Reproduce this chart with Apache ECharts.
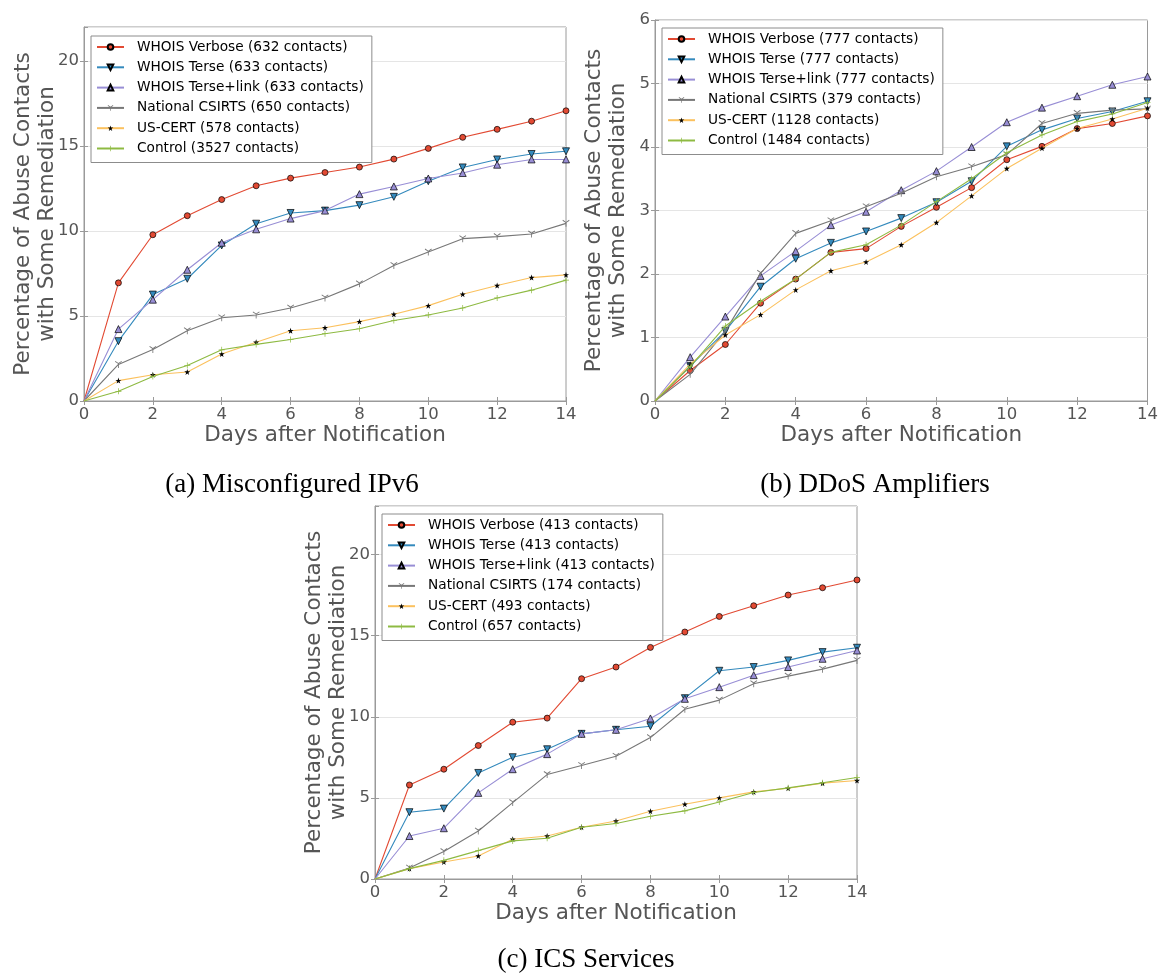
<!DOCTYPE html>
<html>
<head>
<meta charset="utf-8">
<script src="https://cdn.jsdelivr.net/npm/echarts@6/dist/echarts.min.js"></script>
<style>
  html, body { margin: 0; padding: 0; background: #fff; }
  #chart { width: 1161px; height: 973px; }
</style>
</head>
<body>
<div id="chart"></div>
<script>
// Days after the notification was sent
const days = [0, 1, 2, 3, 4, 5, 6, 7, 8, 9, 10, 11, 12, 13, 14];

const groupNames = ['WHOIS Verbose', 'WHOIS Terse', 'WHOIS Terse+link', 'National CSIRTS', 'US-CERT', 'Control'];

// (a) Misconfigured IPv6
const ipv6Contacts = [632, 633, 633, 650, 578, 3527];
const ipv6Verbose   = [0, 6.95, 9.78, 10.9, 11.85, 12.66, 13.11, 13.44, 13.76, 14.23, 14.86, 15.51, 15.98, 16.46, 17.07];
const ipv6Terse     = [0, 3.52, 6.26, 7.19, 9.15, 10.43, 11.06, 11.2, 11.52, 12.01, 12.93, 13.74, 14.21, 14.53, 14.69];
const ipv6TerseLink = [0, 4.23, 5.96, 7.72, 9.31, 10.1, 10.73, 11.2, 12.17, 12.62, 13.09, 13.41, 13.9, 14.21, 14.21];
const ipv6Csirts    = [0, 2.15, 3.03, 4.13, 4.9, 5.06, 5.47, 6.06, 6.89, 7.97, 8.76, 9.55, 9.67, 9.82, 10.45];
const ipv6UsCert    = [0, 1.2, 1.54, 1.71, 2.76, 3.46, 4.13, 4.31, 4.67, 5.1, 5.61, 6.28, 6.79, 7.26, 7.42];
const ipv6Control   = [0, 0.57, 1.44, 2.09, 3.01, 3.33, 3.62, 3.96, 4.25, 4.74, 5.06, 5.47, 6.06, 6.52, 7.11];

// (b) DDoS Amplifiers
const ddosContacts = [777, 777, 777, 379, 1128, 1484];
const ddosVerbose   = [0, 0.48, 0.89, 1.54, 1.92, 2.34, 2.4, 2.75, 3.05, 3.36, 3.8, 4.01, 4.29, 4.37, 4.49];
const ddosTerse     = [0, 0.55, 1.1, 1.8, 2.24, 2.49, 2.67, 2.88, 3.13, 3.46, 4.01, 4.27, 4.45, 4.56, 4.72];
const ddosTerseLink = [0, 0.69, 1.33, 1.97, 2.36, 2.77, 2.98, 3.32, 3.62, 4.0, 4.39, 4.62, 4.8, 4.98, 5.11];
const ddosCsirts    = [0, 0.42, 1.1, 2.01, 2.64, 2.84, 3.06, 3.27, 3.53, 3.69, 3.88, 4.37, 4.53, 4.58, 4.6];
const ddosUsCert    = [0, 0.58, 1.04, 1.36, 1.75, 2.05, 2.19, 2.46, 2.81, 3.23, 3.66, 3.98, 4.29, 4.44, 4.61];
const ddosControl   = [0, 0.54, 1.18, 1.57, 1.92, 2.34, 2.46, 2.77, 3.14, 3.5, 3.91, 4.19, 4.4, 4.52, 4.7];

// (c) ICS Services
const icsContacts = [413, 413, 413, 174, 493, 657];
const icsVerbose   = [0, 5.8, 6.77, 8.23, 9.67, 9.92, 12.35, 13.07, 14.28, 15.23, 16.19, 16.85, 17.51, 17.96, 18.44];
const icsTerse     = [0, 4.12, 4.34, 6.54, 7.51, 8.0, 8.95, 9.2, 9.42, 11.15, 12.84, 13.07, 13.48, 13.99, 14.26];
const icsTerseLink = [0, 2.65, 3.13, 5.31, 6.77, 7.7, 8.95, 9.2, 9.9, 11.11, 11.83, 12.57, 13.07, 13.58, 14.09];
const icsCsirts    = [0, 0.68, 1.69, 2.96, 4.71, 6.44, 7.0, 7.57, 8.72, 10.47, 11.03, 12.04, 12.51, 12.94, 13.48];
const icsUsCert    = [0, 0.64, 1.05, 1.42, 2.45, 2.65, 3.19, 3.58, 4.18, 4.61, 5.0, 5.37, 5.6, 5.91, 6.07];
const icsControl   = [0, 0.64, 1.15, 1.75, 2.35, 2.51, 3.19, 3.42, 3.87, 4.2, 4.75, 5.33, 5.62, 5.93, 6.26];

const captions = ['(a) Misconfigured IPv6', '(b) DDoS Amplifiers', '(c) ICS Services'];

// Marker shapes
const STAR = 'path://M5,0L6.18,3.62L10,3.62L6.91,5.86L8.09,9.51L5,7.27L1.91,9.51L3.09,5.86L0,3.62L3.82,3.62Z';
const PLUS = 'path://M4.4,0H5.6V4.4H10V5.6H5.6V10H4.4V5.6H0V4.4H4.4Z';
const TRI_Y = 'path://M4.45,5.3L4.45,10L5.55,10L5.55,5.3L9.6,2.95L9.05,2.0L5,4.35L0.95,2.0L0.4,2.95Z';

const styles = [
  { line: '#E24A33', fill: '#E24A33', symbol: 'circle',   size: 6, rotate: 0,   border: '#000' },
  { line: '#348ABD', fill: '#348ABD', symbol: 'triangle', size: 7, rotate: 180, border: '#000' },
  { line: '#988ED5', fill: '#988ED5', symbol: 'triangle', size: 7, rotate: 0,   border: '#000' },
  { line: '#777777', fill: '#777777', symbol: TRI_Y,      size: 7, rotate: 0,   border: null },
  { line: '#FBC15E', fill: '#000000', symbol: STAR,       size: 6, rotate: 0,   border: null },
  { line: '#8EBA42', fill: '#8EBA42', symbol: PLUS,       size: 6, rotate: 0,   border: null }
];

const panels = [
  { contacts: ipv6Contacts, values: [ipv6Verbose, ipv6Terse, ipv6TerseLink, ipv6Csirts, ipv6UsCert, ipv6Control],
    grid: { left: 84, top: 27, width: 482, height: 374 }, yMax: 22, yStep: 5,
    legend: { left: 91, top: 36 }, caption: { x: 292, y: 485 } },
  { contacts: ddosContacts, values: [ddosVerbose, ddosTerse, ddosTerseLink, ddosCsirts, ddosUsCert, ddosControl],
    grid: { left: 655, top: 20, width: 493, height: 381 }, yMax: 6, yStep: 1,
    legend: { left: 662, top: 28 }, caption: { x: 875, y: 485 } },
  { contacts: icsContacts, values: [icsVerbose, icsTerse, icsTerseLink, icsCsirts, icsUsCert, icsControl],
    grid: { left: 375, top: 506, width: 482, height: 373 }, yMax: 23, yStep: 5,
    legend: { left: 382, top: 514 }, caption: { x: 586, y: 960 } }
];

const FONT = 'DejaVu Sans';
const GREY_TEXT = '#555555';
const FRAME = '#9a9a9a';

const option = {
  animation: false,
  backgroundColor: '#ffffff',
  grid: [], xAxis: [], yAxis: [], legend: [], series: [], graphic: []
};

panels.forEach((p, pi) => {
  option.grid.push(Object.assign({ show: true, borderColor: FRAME, borderWidth: 1, backgroundColor: '#fff' }, p.grid));

  const xBase = option.xAxis.length;
  const yBase = option.yAxis.length;

  // bottom x axis with labels and title
  option.xAxis.push({
    type: 'value', gridIndex: pi, min: 0, max: 14, interval: 2, position: 'bottom',
    name: 'Days after Notification', nameLocation: 'middle', nameGap: 23, nameMoveOverlap: false,
    nameTextStyle: { fontFamily: FONT, fontSize: 21.5, color: GREY_TEXT },
    axisLine: { show: true, lineStyle: { color: FRAME } },
    axisTick: { show: true, length: 4, lineStyle: { color: FRAME } },
    axisLabel: { margin: 5, fontFamily: FONT, fontSize: 16.5, color: GREY_TEXT },
    splitLine: { show: false }
  });
  // top x axis: ticks only
  option.xAxis.push({
    type: 'value', gridIndex: pi, min: 0, max: 14, interval: 2, position: 'top',
    axisLine: { show: false }, axisLabel: { show: false },
    axisTick: { show: true, length: 4, lineStyle: { color: FRAME } },
    splitLine: { show: false }
  });
  // left y axis with labels, grid lines and two-line title
  option.yAxis.push({
    type: 'value', gridIndex: pi, min: 0, max: p.yMax, interval: p.yStep, position: 'left',
    name: 'Percentage of Abuse Contacts\nwith Some Remediation', nameLocation: 'middle', nameGap: 25,
    nameRotate: 90, nameMoveOverlap: false,
    nameTextStyle: { fontFamily: FONT, fontSize: 21.5, color: GREY_TEXT, lineHeight: 23.5 },
    axisLine: { show: true, lineStyle: { color: FRAME } },
    axisTick: { show: true, length: 4, lineStyle: { color: FRAME } },
    axisLabel: { margin: 5, fontFamily: FONT, fontSize: 16.5, color: GREY_TEXT,
                 showMaxLabel: p.yMax % p.yStep === 0 },
    splitLine: { show: true, lineStyle: { color: '#e5e5e5', width: 1 } }
  });
  // right y axis: ticks only
  option.yAxis.push({
    type: 'value', gridIndex: pi, min: 0, max: p.yMax, interval: p.yStep, position: 'right',
    axisLine: { show: false }, axisLabel: { show: false },
    axisTick: { show: true, length: 4, lineStyle: { color: FRAME } },
    splitLine: { show: false }
  });

  const names = groupNames.map((g, i) => `${g} (${p.contacts[i]} contacts)`);

  option.legend.push({
    orient: 'vertical', left: p.legend.left, top: p.legend.top,
    data: names,
    itemWidth: 27, itemHeight: 7, itemGap: 6.3,
    padding: [4, 8, 7, 5],
    borderColor: '#8c8c8c', borderWidth: 1, borderRadius: 0, backgroundColor: '#fff',
    textStyle: { fontFamily: FONT, fontSize: 13.7, color: '#000', lineHeight: 14, padding: [0, 0, 0, 8] },
    selectedMode: false
  });

  names.forEach((name, si) => {
    const st = styles[si];
    const vals = p.values[si];
    option.series.push({
      type: 'line', name: name,
      xAxisIndex: xBase, yAxisIndex: yBase,
      data: days.map((d, i) => i === 0 ? { value: [d, vals[i]], symbol: 'none' } : [d, vals[i]]),
      symbol: st.symbol, symbolSize: st.size, symbolRotate: st.rotate,
      showAllSymbol: true,
      lineStyle: { color: st.line, width: 1.1 },
      itemStyle: st.border
        ? { color: st.fill, borderColor: st.border, borderWidth: 0.7 }
        : { color: st.fill, borderWidth: 0 },
      emphasis: { disabled: true },
      clip: false,
      z: 2 + si
    });
  });

  option.graphic.push({
    type: 'text', x: p.caption.x, y: p.caption.y,
    style: {
      text: captions[pi], fill: '#000',
      font: '27px "Liberation Serif"',
      textAlign: 'center', textVerticalAlign: 'middle'
    }
  });
});

const chart = echarts.init(document.getElementById('chart'), null, { renderer: 'canvas' });
chart.setOption(option);
</script>
</body>
</html>
